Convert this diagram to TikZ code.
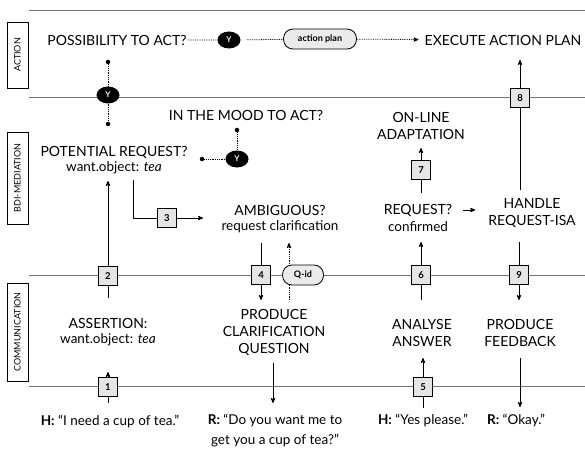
\documentclass[tikz,border=0pt]{standalone}
\usepackage{fontspec}
\setmainfont{Lato}
\usetikzlibrary{arrows,shapes.geometric,positioning}

\begin{document}
\begin{tikzpicture}
    [x=1pt,y=-1pt,>=stealth',node distance=17pt,
        lane/.style={draw=black!55,line width=0.8pt},
        link/.style={line width=0.8pt},
        maybe/.style={densely dotted,line width=0.8pt},
        tag/.style={draw,line width=0.8pt,rotate=90,minimum height=21pt,inner sep=0pt,font=\fontsize{9}{10}\selectfont},
        head/.style={align=center,font=\fontsize{14}{17}\selectfont,inner sep=1pt},
        detail/.style={font=\fontsize{13.5}{15}\selectfont,inner sep=1pt},
        speech/.style={align=center,font=\fontsize{13.5}{20}\selectfont,inner sep=1pt},
        num/.style={draw,line width=0.8pt,fill=black!10,minimum size=19pt,inner sep=0pt,font=\fontsize{9.5}{10}\selectfont\bfseries},
        yes/.style={ellipse,fill=black,text=white,minimum width=23pt,minimum height=17pt,inner sep=0pt,font=\fontsize{8}{9}\selectfont\bfseries},
        pill/.style={draw,line width=0.8pt,fill=black!8,rounded corners=9.5pt,minimum height=20pt,inner sep=0pt,font=\fontsize{9}{10}\selectfont\bfseries},
        dot/.style={circle,fill=black,inner sep=0pt,minimum size=4.5pt}]

    \useasboundingbox (0,0) rectangle (585,449);

    % lanes
    \foreach \y in {10,97,275,386}
        \draw[lane] (29,\y) -- (585,\y);

    % layer labels
    \node[tag,minimum width=66pt] (action) at (17.5,55) {ACTION};
    \node[tag,minimum width=92pt] (bdi) at (17.5,178) {BDI-MEDIATION};
    \node[tag,minimum width=98pt] (comm) at (17.5,332) {COMMUNICATION};

    % action layer
    \node[head] (possible) at (117,40) {POSSIBILITY TO ACT?};
    \node[yes] (y1) at (229,40) {Y};
    \node[pill,minimum width=73pt] (plan) at (320,39) {action plan};
    \node[head] (execute) at (503,40) {EXECUTE ACTION PLAN};
    \draw[maybe,shorten <=6pt] (possible) -- (y1) -- (plan);
    \draw[maybe,->,shorten >=5pt] (plan) -- (execute);

    \node[yes] (y2) at (108,95) {Y};
    \node[dot] (d1) at (108,62) {};
    \node[dot] (d2) at (108,124) {};
    \draw[maybe] (d1) -- (y2) -- (d2);

    % bdi layer
    \node[head] (mood) at (246,115) {IN THE MOOD TO ACT?};
    \node[yes] (y3) at (237,159) {Y};
    \node[dot] (d3) at (237,130) {};
    \node[dot] (d4) at (202,159) {};
    \draw[maybe] (d3) -- (y3);
    \draw[maybe] (d4) -- (y3);

    \node[head] (potential) at (114,152) {POTENTIAL REQUEST?};
    \node[detail,below of=potential,node distance=16pt] (wantbdi) {want.object: \textit{tea}};

    \node[num] (n3) at (167,218) {3};
    \coordinate (c3) at (133,180);
    \coordinate (c3e) at (203,218);
    \draw[link] (c3) |- (n3);
    \draw[link,->] (n3) -- (c3e);

    \node[head] (ambiguous) at (280,210) {AMBIGUOUS?};
    \node[detail,below of=ambiguous] (clarify) {request clarification};

    \node[head] (online) at (421,126) {ON-LINE\\ADAPTATION};
    \node[num] (n7) at (421,170) {7};
    \coordinate (c7) at (421,193);
    \coordinate (c7e) at (421,148);
    \draw[link] (c7) -- (n7);
    \draw[link,->] (n7) -- (c7e);

    \node[head] (request) at (418,210) {REQUEST?};
    \node[detail,below of=request] (confirmed) {confirmed};
    \node[head] (handle) at (532,213) {HANDLE\\REQUEST-ISA};
    \draw[link,->,shorten <=10pt,shorten >=12pt] (request.east) -- (request.east -| handle.west);

    \node[num] (n8) at (520,98) {8};
    \coordinate (c8) at (520,190);
    \coordinate (c8e) at (520,60);
    \draw[link] (c8) -- (n8);
    \draw[link,->] (n8) -- (c8e);

    % communication layer
    \node[num] (n2) at (108,276) {2};
    \coordinate (c2) at (108,298);
    \coordinate (c2e) at (108,181);
    \draw[link] (c2) -- (n2);
    \draw[link,->] (n2) -- (c2e);

    \node[num] (n4) at (261,275) {4};
    \coordinate (c4) at (261,243);
    \coordinate (c4e) at (261,300);
    \draw[link] (c4) -- (n4);
    \draw[link,->] (n4) -- (c4e);

    \coordinate (q1) at (289,300);
    \coordinate (q2) at (289,243);
    \draw[maybe,->] (q1) -- (q2);
    \node[pill,minimum width=41pt] (qid) at (303,275) {Q-id};

    \node[num] (n6) at (421,275) {6};
    \coordinate (c6) at (421,300);
    \coordinate (c6e) at (421,242);
    \draw[link] (c6) -- (n6);
    \draw[link,->] (n6) -- (c6e);

    \node[num] (n9) at (519,275) {9};
    \coordinate (c9) at (519,242);
    \coordinate (c9e) at (519,300);
    \draw[link] (c9) -- (n9);
    \draw[link,->] (n9) -- (c9e);

    \node[head] (assertion) at (108,323) {ASSERTION:};
    \node[detail,below of=assertion] (wantcom) {want.object: \textit{tea}};
    \node[num] (n1) at (108,387) {1};
    \coordinate (c1) at (108,403);
    \coordinate (c1e) at (108,372);
    \draw[link] (c1) -- (n1);
    \draw[link,->] (n1) -- (c1e);

    \node[head] (produceq) at (274,332) {PRODUCE\\CLARIFICATION\\QUESTION};
    \coordinate (cq) at (273,363);
    \coordinate (cqe) at (273,403);
    \draw[link,->] (cq) -- (cqe);

    \node[head] (analyse) at (422,333) {ANALYSE\\ANSWER};
    \node[num] (n5) at (423,387) {5};
    \coordinate (c5) at (423,408);
    \coordinate (c5e) at (423,358);
    \draw[link] (c5) -- (n5);
    \draw[link,->] (n5) -- (c5e);

    \node[head] (feedback) at (520,333) {PRODUCE\\FEEDBACK};
    \coordinate (cf) at (520,358);
    \coordinate (cfe) at (520,407);
    \draw[link,->] (cf) -- (cfe);

    % utterances
    \node[speech] (hsay1) at (110,421) {\textbf{H:} ``I need a cup of tea.''};
    \node[speech] (rsay1) at (275,431) {\textbf{R:} ``Do you want me to\\get you a cup of tea?''};
    \node[speech] (hsay2) at (423,420) {\textbf{H:} ``Yes please.''};
    \node[speech] (rsay2) at (516,420) {\textbf{R:} ``Okay.''};
\end{tikzpicture}
\end{document}
